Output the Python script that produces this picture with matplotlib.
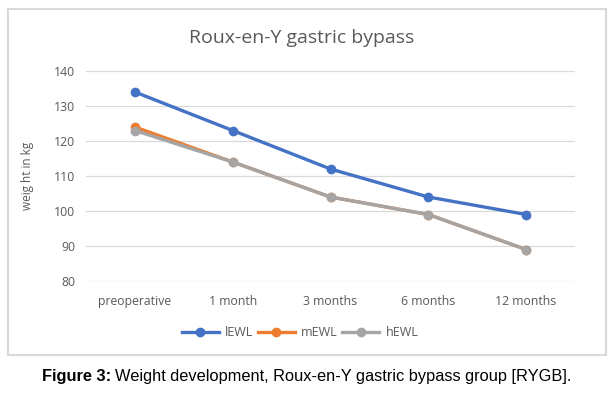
import matplotlib.pyplot as plt
from matplotlib.patches import Rectangle

# data
categories = ['preoperative', '1 month', '3 months', '6 months', '12 months']
lewl = [134, 123, 112, 104, 99]
mewl = [124, 114, 104, 99, 89]
hewl = [123, 114, 104, 99, 89]
series_names = ['lEWL', 'mEWL', 'hEWL']
colors = ['#4472C4', '#ED7D31', '#A5A5A5']
yticks = [80, 90, 100, 110, 120, 130, 140]

plt.rcParams['font.family'] = ['Open Sans', 'DejaVu Sans']

fig = plt.figure(figsize=(6.14, 3.93), dpi=100)

# outer chart frame
fig.patches.append(Rectangle((8 / 614, 1 - 355 / 393), 598 / 614, 346 / 393,
                             transform=fig.transFigure, fill=False,
                             edgecolor='#D9D9D9', linewidth=1.5))

ax = fig.add_axes([86 / 614, 1 - 281 / 393, 489 / 614, 210 / 393])

x = range(len(categories))
for vals, name, c in zip([lewl, mewl, hewl], series_names, colors):
    ax.plot(x, vals, color=c, linewidth=2.4, marker='o', markersize=6, label=name)

ax.set_xlim(-0.5, len(categories) - 0.5)
ax.set_ylim(80, 140)
ax.set_yticks(yticks)
ax.set_xticks(list(x))
ax.set_xticklabels(categories)
ax.grid(axis='y', color='#D9D9D9', linewidth=0.9)
ax.set_axisbelow(True)
for s in ax.spines.values():
    s.set_visible(False)
ax.tick_params(length=0, labelsize=8.8, labelcolor='#595959', pad=8)
ax.tick_params(axis='x', pad=10)

ax.set_ylabel('weig ht in kg', fontsize=8.5, color='#595959', labelpad=14)
fig.text(302 / 614, 1 - 38 / 393, 'Roux-en-Y gastric bypass', ha='center', va='center',
         fontsize=14, color='#595959')

fig.legend(loc='center', bbox_to_anchor=(300 / 614, 1 - 333 / 393), ncol=3,
           frameon=False, fontsize=9, handlelength=3, columnspacing=0.3,
           handletextpad=0.5, labelcolor='#595959')

# caption: bold label followed by plain text
cap_y = 1 - 376 / 393
t1 = fig.text(42 / 614, cap_y, 'Figure 3:', ha='left', va='center',
              fontsize=11.8, fontweight='bold', family='Liberation Sans')
fig.canvas.draw()
bb = t1.get_window_extent()
fig.text(bb.x1 / 614 + 4 / 614, cap_y, 'Weight development, Roux-en-Y gastric bypass group [RYGB].',
         ha='left', va='center', fontsize=11.8, family='Liberation Sans')

fig.savefig('out.png', dpi=100)
